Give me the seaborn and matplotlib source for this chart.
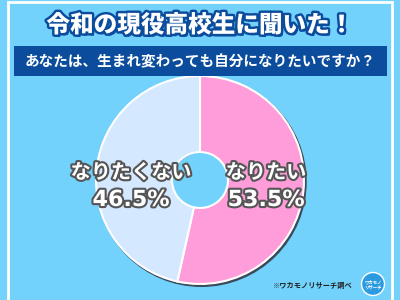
import matplotlib
matplotlib.use("Agg")
import matplotlib.pyplot as plt
import matplotlib.patheffects as pe
from matplotlib.patches import Rectangle, Circle
import seaborn as sns

sns.set_theme(style="white")
plt.rcParams['font.family'] = ['Noto Sans CJK JP', 'DejaVu Sans']

title = "令和の現役高校生に聞いた！"
question = "あなたは、生まれ変わっても自分になりたいですか？"
categories = ["なりたい", "なりたくない"]
values = [53.5, 46.5]
colors = ["#ff9ddb", "#d4e8ff"]
source = "※ワカモノリサーチ調べ"

BG = "#72d2fb"
NAVY = "#0b4c9c"

fig = plt.figure(figsize=(4, 3), dpi=100)
fig.patch.set_facecolor(BG)
ax = fig.add_axes([0, 0, 1, 1])
ax.set_facecolor(BG)

cx, cy, R, r = 200, 120, 104, 28
# pie shadow and hole inner shadow
ax.add_patch(Circle((cx + 1.5, cy - 1.8), R + 0.5, color="#3a4a5a", zorder=1))
ax.add_patch(Circle((cx + 1.2, cy - 1.2), r, color=BG, zorder=1.8))
wedges, _ = ax.pie(values, colors=colors, startangle=90, counterclock=False,
                   radius=R, center=(cx, cy),
                   wedgeprops=dict(width=R - r, edgecolor="white", linewidth=1.5))
for w in wedges:
    w.set_zorder(2)

ax.set_xlim(0, 400)
ax.set_ylim(0, 300)
ax.set_aspect("auto")
ax.axis("off")

# white frame
ax.add_patch(Rectangle((8, -5), 384, 303.5, facecolor="none", edgecolor="white", linewidth=2, zorder=0.5))

# title
ax.text(200, 275, title, ha="center", va="center", color="white", fontsize=17, fontweight="heavy",
        path_effects=[pe.withSimplePatchShadow(offset=(1.5, -1.8), shadow_rgbFace=NAVY, alpha=1),
                      pe.withStroke(linewidth=3.5, foreground=NAVY)], zorder=5)

# question box
ax.add_patch(Rectangle((14, 224), 373, 30, facecolor=NAVY, edgecolor="none", zorder=3))
ax.text(200, 239, question, ha="center", va="center", color="white", fontsize=10.5,
        fontweight="bold", zorder=5)

outline = [pe.withStroke(linewidth=3, foreground="#555555")]
pos = {"なりたい": (266, 128), "なりたくない": (131, 128)}
for cat, val in zip(categories, values):
    x, y = pos[cat]
    ax.text(x, y, cat, ha="center", va="center", color="white", fontsize=14.5,
            fontweight="bold", path_effects=outline, zorder=6)
    ax.text(x, y - 28, f"{val:.1f}%", ha="center", va="center", color="white", fontsize=16,
            fontweight="bold", family="DejaVu Sans", path_effects=outline, zorder=6)

ax.text(313, 15, source, ha="center", va="center", color="#222222", fontsize=5.2, fontweight="bold", zorder=5)

# logo
ax.add_patch(Circle((373, 16), 11.5, facecolor="#2a9be0", edgecolor="white", linewidth=1, zorder=5))
ax.text(373, 16, "ワカモノ\nリサーチ", ha="center", va="center", color="white", fontsize=3.2,
        fontweight="bold", linespacing=1.0, zorder=6)

fig.savefig("out.png", dpi=100, facecolor=BG)
